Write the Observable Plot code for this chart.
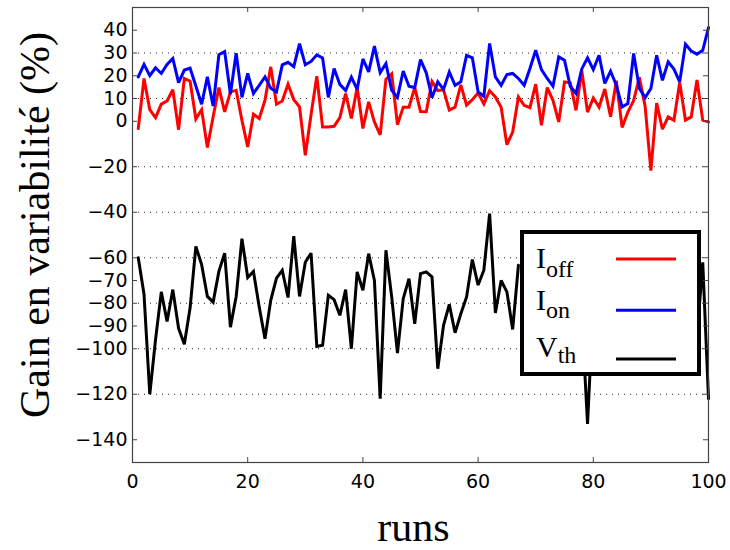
<!DOCTYPE html>
<html><head><meta charset="utf-8">
<script src="https://cdn.jsdelivr.net/npm/d3@7"></script>
<script src="https://cdn.jsdelivr.net/npm/@observablehq/plot@0.6"></script>
<style>body{margin:0;background:#fff}</style>
</head><body><div id="chart"></div>
<script>
const runs = d3.range(1, 101);
const ioff = [-3.2,18.8,5.1,1.6,7.5,8.9,13.9,-3.7,18.8,17.6,
  1,5.1,-11.5,2,14.8,4.1,12.9,13.6,0.4,-11.3,
  3.1,1.2,9.2,23.9,7.5,8.9,16.3,9.5,6.3,-15,
  3,19.8,-2.5,-2.5,-2.2,1.6,12.2,1.2,14.8,-3.2,
  8.5,-0.3,-6,18.5,20.8,-1.5,6.2,6.2,14.8,4.3,
  4.2,17.5,13.5,13.8,4.9,6.2,16,7.1,9.5,12.5,
  7.6,13.4,10.7,6.2,-10.3,-4.8,10.7,7,6,16.3,
  -1.8,14.8,9.2,-0.3,17.3,16.9,4.8,22.2,4,10.2,
  6.2,14.2,2,17.8,-2.7,4,9.1,19.3,6.5,-21.7,
  8,-3.5,1.9,0.4,17,0.5,1.9,18.1,0.5,-0.3];
const ion = [19.5,25,20,23.5,21,25,27.6,17,22.5,23.3,
  15.5,7.5,19.5,6.7,29.3,30.6,12,29.9,10.5,21,
  12.2,15.8,19.5,14.5,12.9,24.8,25.9,24,34.1,24.8,
  26.3,29.2,27.8,10.5,23.2,16.2,13.5,19.4,14,27.4,
  21.7,33,21.4,25.3,13.6,10.5,22.1,15.4,14.8,27.1,
  21.3,10.4,17.3,14,21.7,15.8,17.3,29,27.9,12.9,
  11,34.2,19.5,15.8,20.5,21,18.8,15.8,23.2,31.2,
  22.7,18.8,15.4,28.3,26.8,15.4,12.2,23,27.9,22.7,
  29,16.6,22,15.8,6.3,7.8,29.8,14.4,10.4,14.4,
  29,18,26.1,22.9,17.3,33.9,30.9,29.5,31.2,41.2];
// V_th: runs hidden behind the legend are unknown (null)
const vth = [-60,-76,-120,-96,-75,-88,-74,-91,-98,-82,
  -55,-63,-77,-79.5,-66,-58,-90.5,-77,-51.6,-68.7,
  -66,-81.6,-95.6,-78.7,-69,-65.5,-77.5,-50.5,-77,-62,
  -58,-99,-98.5,-76.5,-78.4,-85.3,-74,-100,-66.2,-74.3,
  -58.2,-70,-122,-56.7,-77.2,-101.9,-78,-69.2,-89,-67,
  -66.2,-68.4,-108.8,-89.7,-80.5,-93,-84.6,-77.2,-60.8,-72,
  -65.5,-40.6,-84.3,-70,-75,-91.5,-63.3,null,null,null,
  null,null,null,null,null,null,null,-85,-133,-80,
  null,null,null,null,null,null,null,null,null,null,
  null,null,null,null,null,null,null,-95,-62,-122];

const seriesNames = ["Ioff", "Ion", "Vth"];
const seriesColors = ["#ff0000", "#0000ff", "#000000"];
const legendMain = ["I", "I", "V"];
const legendSub = ["off", "on", "th"];
const xTicks = [0, 20, 40, 60, 80, 100];
const yTicks = [40, 30, 20, 10, 0, -20, -40, -60, -70, -80, -90, -100, -120, -140];
const yGrid = [30, 10, -20, -40, -60, -80, -100, -120];
const xLabel = "runs";
const yLabel = "Gain en variabilité (%)";

const rows = [];
[ioff, ion, vth].forEach((vals, i) => vals.forEach((v, j) => rows.push({run: runs[j], value: v, series: seriesNames[i]})));

const W = 730, H = 550, mL = 132, mR = 22, mT = 7, mB = 88;
const fw = W - mL - mR, fh = H - mT - mB;
const fmt = d => d < 0 ? "\u2212" + Math.abs(d) : String(d);
const boxColor = "#444";
const serif = "Liberation Serif, Times New Roman, serif";
const sans = "DejaVu Sans, Liberation Sans, sans-serif";

const plot = Plot.plot({
  width: W, height: H,
  marginLeft: mL, marginRight: mR, marginTop: mT, marginBottom: mB,
  style: {fontFamily: sans, fontSize: "19px", background: "#fff", color: "#000"},
  x: {domain: [0, 100]},
  y: {domain: [-150, 50]},
  color: {domain: seriesNames, range: seriesColors},
  marks: [
    Plot.ruleY(yGrid, {y: d => d, stroke: "#000", strokeOpacity: 0.85, strokeDasharray: "1,5"}),
    Plot.lineY(rows, {x: "run", y: "value", z: "series", stroke: "series", strokeWidth: 3, strokeLinejoin: "miter", strokeMiterlimit: 3}),
    Plot.frame({stroke: boxColor, strokeWidth: 1.2}),
    Plot.tickX(xTicks, {x: d => d, insetTop: fh - 5, stroke: boxColor}),
    Plot.tickX(xTicks, {x: d => d, insetBottom: fh - 5, stroke: boxColor}),
    Plot.tickY(yTicks, {y: d => d, insetRight: fw - 5, stroke: boxColor}),
    Plot.tickY(yTicks, {y: d => d, insetLeft: fw - 5, stroke: boxColor}),
    Plot.axisX({anchor: "bottom", ticks: xTicks, tickSize: 0, tickPadding: 12, label: null, fontSize: 19, tickFormat: fmt}),
    Plot.axisY({anchor: "left", ticks: yTicks, tickSize: 0, tickPadding: 5, label: null, fontSize: 19, tickFormat: fmt}),
    Plot.text([xLabel], {text: d => d, frameAnchor: "bottom", textAnchor: "middle", lineAnchor: "middle", dy: 65, dx: -7, fontSize: 42, fontFamily: serif, fill: "#000"}),
    Plot.text([yLabel], {text: d => d, frameAnchor: "left", textAnchor: "middle", lineAnchor: "middle", dx: -97, dy: -10, rotate: -90, fontSize: 42, fontFamily: serif, fill: "#000"})
  ]
});
document.getElementById("chart").appendChild(plot);

// legend box drawn on top of the lines
const svg = d3.select(plot);
const lg = svg.append("g").attr("font-family", serif).attr("text-anchor", "start");
lg.append("rect").attr("x", 522).attr("y", 232).attr("width", 177).attr("height", 142)
  .attr("fill", "#fff").attr("stroke", "#000").attr("stroke-width", 4);
const baseY = [268.3, 310, 356.7];
const subDy = [8.4, 8.3, 6.6];
const lineY = [259, 310.3, 359];
seriesNames.forEach((s, i) => {
  const t = lg.append("text").attr("x", 536).attr("y", baseY[i]).attr("font-size", 30).attr("fill", "#000").attr("text-anchor", "start");
  t.append("tspan").text(legendMain[i]);
  t.append("tspan").attr("font-size", 24).attr("dy", subDy[i]).text(legendSub[i]);
  lg.append("line").attr("x1", 616).attr("x2", 676).attr("y1", lineY[i]).attr("y2", lineY[i])
    .attr("stroke", seriesColors[i]).attr("stroke-width", 3);
});
</script></body></html>
